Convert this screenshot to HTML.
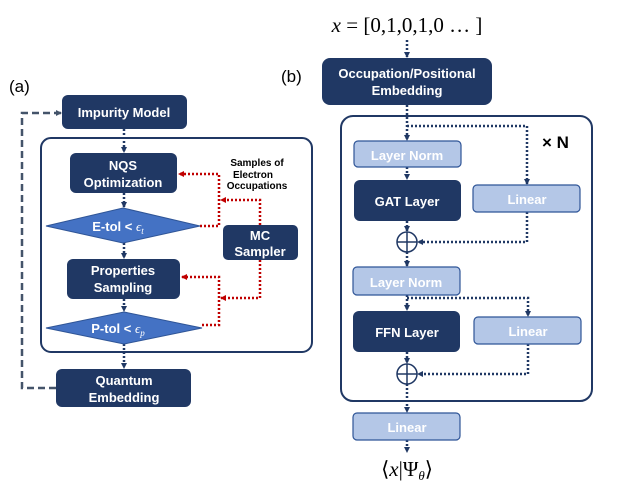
<!DOCTYPE html>
<html><head><meta charset="utf-8"><style>
html,body{margin:0;padding:0;background:#fff;}
svg{display:block;}
text{font-family:"Liberation Sans",sans-serif;}
.w{fill:#fff;font-weight:bold;font-size:13px;text-anchor:middle;}
.m{font-family:"Liberation Serif",serif;}
</style></head><body>
<svg width="621" height="494" viewBox="0 0 621 494" xmlns="http://www.w3.org/2000/svg">
<defs>
<marker id="ab" markerWidth="6" markerHeight="6" refX="5" refY="3" orient="auto" markerUnits="userSpaceOnUse"><path d="M0,0 L6,3 L0,6 z" fill="#203864"/></marker>
<marker id="ar" markerWidth="6" markerHeight="6" refX="5" refY="3" orient="auto" markerUnits="userSpaceOnUse"><path d="M0,0 L6,3 L0,6 z" fill="#c00000"/></marker>
<marker id="ag" markerWidth="6" markerHeight="6" refX="5" refY="3" orient="auto" markerUnits="userSpaceOnUse"><path d="M0,0 L6,3 L0,6 z" fill="#44546a"/></marker>
</defs>
<!-- labels -->
<text x="9" y="92" font-size="17" fill="#000">(a)</text>
<text x="281" y="82" font-size="17" fill="#000">(b)</text>

<!-- panel a -->
<rect x="41" y="138" width="271" height="214" rx="10" fill="none" stroke="#203864" stroke-width="2"/>
<path d="M56,388 H22 V113 H61" fill="none" stroke="#44546a" stroke-width="2.5" stroke-dasharray="7,4" marker-end="url(#ag)"/>
<g fill="none" stroke="#203864" stroke-width="2.5" stroke-dasharray="2,2">
<path d="M124,129 V152" marker-end="url(#ab)"/>
<path d="M124,193 V207" marker-end="url(#ab)"/>
<path d="M124,243 V258" marker-end="url(#ab)"/>
<path d="M124,299 V311" marker-end="url(#ab)"/>
<path d="M124,344 V368" marker-end="url(#ab)"/>
</g>
<g fill="none" stroke="#c00000" stroke-width="2.5" stroke-dasharray="2,2">
<path d="M200,226 H219 V174 H179" marker-end="url(#ar)"/>
<path d="M260,225 V200 H221" marker-end="url(#ar)"/>
<path d="M202,325 H219 V277 H182" marker-end="url(#ar)"/>
<path d="M260,260 V298 H221" marker-end="url(#ar)"/>
</g>
<rect x="62" y="95" width="125" height="34" rx="6" fill="#203864"/>
<text class="w" x="124" y="117">Impurity Model</text>
<rect x="70" y="153" width="107" height="40" rx="6" fill="#203864"/>
<text class="w" x="123" y="170">NQS</text><text class="w" x="123" y="187">Optimization</text>
<polygon points="46,226 123,208 200,226 123,243" fill="#4472c4" stroke="#2f5597"/>
<text class="w" x="118" y="231">E-tol &lt; <tspan class="m" font-style="italic" font-weight="normal">ϵ<tspan font-size="9" dy="3">t</tspan></tspan></text>
<rect x="223" y="225" width="75" height="35" rx="5" fill="#203864"/>
<text class="w" x="260" y="240">MC</text><text class="w" x="260" y="256">Sampler</text>
<text x="257" y="166" font-size="10" font-weight="bold" text-anchor="middle">Samples of</text>
<text x="253" y="178" font-size="10" font-weight="bold" text-anchor="middle">Electron</text>
<text x="257" y="189" font-size="10" font-weight="bold" text-anchor="middle">Occupations</text>
<rect x="67" y="259" width="113" height="40" rx="6" fill="#203864"/>
<text class="w" x="123" y="275">Properties</text><text class="w" x="123" y="292">Sampling</text>
<polygon points="46,328 124,312 202,328 124,344" fill="#4472c4" stroke="#2f5597"/>
<text class="w" x="118" y="333">P-tol &lt; <tspan class="m" font-style="italic" font-weight="normal">ϵ<tspan font-size="9" dy="3">p</tspan></tspan></text>
<rect x="56" y="369" width="135" height="38" rx="6" fill="#203864"/>
<text class="w" x="124" y="385">Quantum</text><text class="w" x="124" y="402">Embedding</text>

<!-- panel b -->
<text class="m" x="407" y="32" font-size="21" text-anchor="middle"><tspan font-style="italic">x</tspan> = [0,1,0,1,0 … ]</text>
<rect x="341" y="116" width="251" height="285" rx="12" fill="none" stroke="#203864" stroke-width="2"/>
<g fill="none" stroke="#203864" stroke-width="2.5" stroke-dasharray="2,2">
<path d="M407,40 V57" marker-end="url(#ab)"/>
<path d="M407,105 V140" marker-end="url(#ab)"/>
<path d="M407,126 H527 V184" marker-end="url(#ab)"/>
<path d="M407,167 V179" marker-end="url(#ab)"/>
<path d="M407,221 V231" marker-end="url(#ab)"/>
<path d="M527,212 V242 H418" marker-end="url(#ab)"/>
<path d="M407,252 V266" marker-end="url(#ab)"/>
<path d="M407,295 V310" marker-end="url(#ab)"/>
<path d="M407,298 H528 V316" marker-end="url(#ab)"/>
<path d="M407,352 V363" marker-end="url(#ab)"/>
<path d="M528,344 V374 H418" marker-end="url(#ab)"/>
<path d="M407,384 V412" marker-end="url(#ab)"/>
<path d="M407,440 V452" marker-end="url(#ab)"/>
</g>
<rect x="322" y="58" width="170" height="47" rx="8" fill="#203864"/>
<text class="w" x="407" y="78">Occupation/Positional</text><text class="w" x="407" y="95">Embedding</text>
<text x="542" y="148" font-size="17" font-weight="bold">× N</text>
<g fill="#b4c7e7" stroke="#2f5597" stroke-width="1.2">
<rect x="354" y="141" width="107" height="26" rx="4"/>
<rect x="473" y="185" width="107" height="27" rx="4"/>
<rect x="353" y="267" width="107" height="28" rx="4"/>
<rect x="474" y="317" width="107" height="27" rx="4"/>
<rect x="353" y="413" width="107" height="27" rx="4"/>
</g>
<text class="w" x="407" y="160">Layer Norm</text>
<text class="w" x="527" y="204">Linear</text>
<text class="w" x="406" y="287">Layer Norm</text>
<text class="w" x="528" y="336">Linear</text>
<text class="w" x="407" y="432">Linear</text>
<rect x="354" y="180" width="107" height="41" rx="6" fill="#203864"/>
<text class="w" x="407" y="206">GAT Layer</text>
<rect x="353" y="311" width="107" height="41" rx="6" fill="#203864"/>
<text class="w" x="407" y="337">FFN Layer</text>
<g fill="#fff" stroke="#203864" stroke-width="1.5">
<circle cx="407" cy="242" r="10"/><path d="M397,242 H417 M407,232 V252"/>
<circle cx="407" cy="374" r="10"/><path d="M397,374 H417 M407,364 V384"/>
</g>
<text class="m" x="407" y="476" font-size="21" text-anchor="middle">⟨<tspan font-style="italic">x</tspan>|Ψ<tspan font-style="italic" font-size="13" dy="4">θ</tspan><tspan dy="-4">⟩</tspan></text>
</svg>
</body></html>
